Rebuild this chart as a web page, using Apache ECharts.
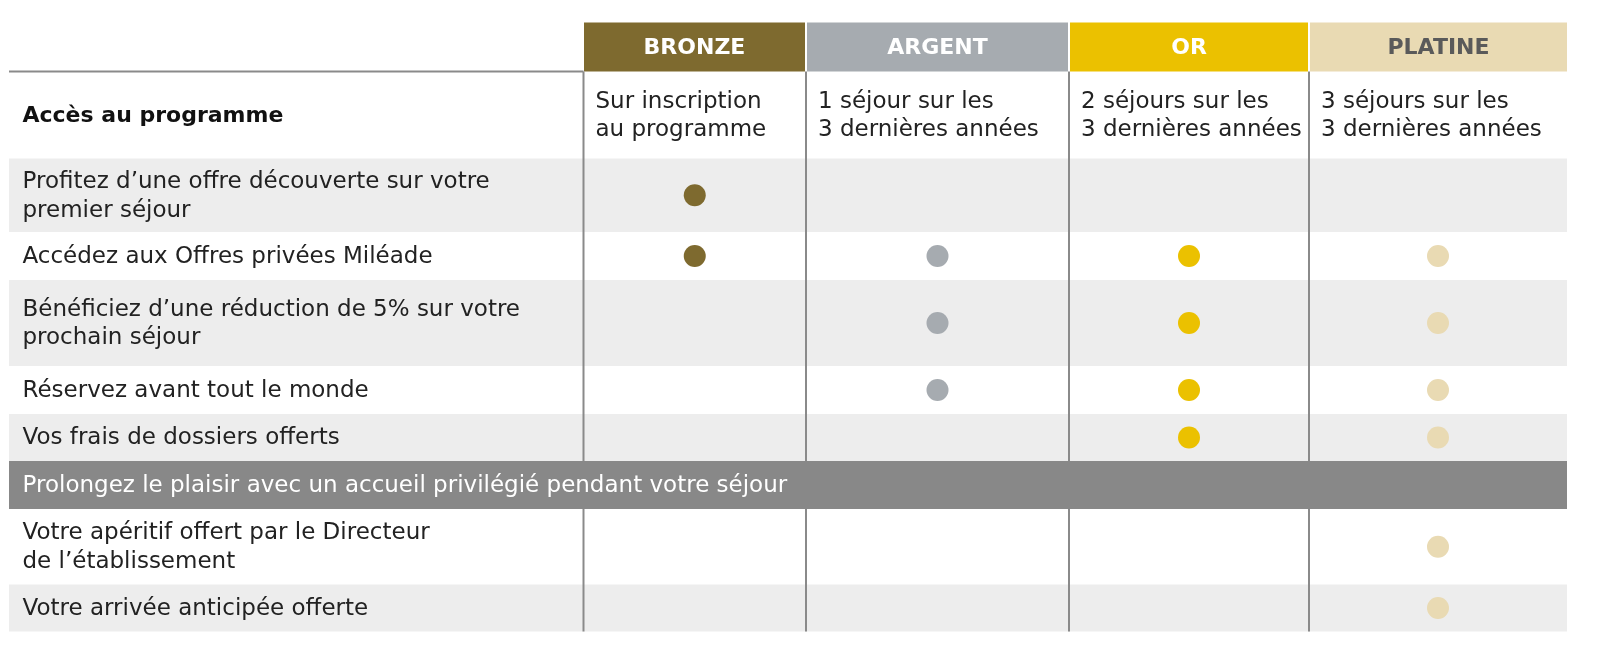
<!DOCTYPE html>
<html><head><meta charset="utf-8">
<script src="https://cdn.jsdelivr.net/npm/echarts@6/dist/echarts.min.js"></script>
<style>html,body{margin:0;padding:0;background:#fff;}#c{width:1602px;height:665px;}</style>
</head><body><div id="c"></div>
<script>
// ---- data ----
const tiers = ['BRONZE', 'ARGENT', 'OR', 'PLATINE'];
const requirements = [
  'Sur inscription\nau programme',
  '1 séjour sur les\n3 dernières années',
  '2 séjours sur les\n3 dernières années',
  '3 séjours sur les\n3 dernières années'
];
const accessLabel = 'Accès au programme';
const sectionLabel = 'Prolongez le plaisir avec un accueil privilégié pendant votre séjour';
const features = [
  'Profitez d’une offre découverte sur votre\npremier séjour',
  'Accédez aux Offres privées Miléade',
  'Bénéficiez d’une réduction de 5% sur votre\nprochain séjour',
  'Réservez avant tout le monde',
  'Vos frais de dossiers offerts',
  'Votre apéritif offert par le Directeur\nde l’établissement',
  'Votre arrivée anticipée offerte'
];
const bronze  = [1, 1, 0, 0, 0, 0, 0];
const argent  = [0, 1, 1, 1, 0, 0, 0];
const or      = [0, 1, 1, 1, 1, 0, 0];
const platine = [0, 1, 1, 1, 1, 1, 1];

// ---- layout / style ----
const colEdges = [9, 583.5, 806, 1069, 1309, 1567];
const headerTop = 22.5, headerBottom = 71.5;
const rowEdges = [71.5, 158.5, 232, 280, 366, 414, 461, 509, 584.5, 631.5];
const rowKinds = ['access', 'f', 'f', 'f', 'f', 'f', 'section', 'f', 'f'];
const rowFills = ['#ffffff', '#ededed', '#ffffff', '#ededed', '#ffffff', '#ededed', '#888888', '#ffffff', '#ededed'];
const featureRow = [1, 2, 3, 4, 5, 7, 8];
const tierColors = ['#7e6a2f', '#a6abb0', '#ebc100', '#e9dab3'];
const tierText = ['#ffffff', '#ffffff', '#ffffff', '#5a5a5a'];
const dotColors = ['#7e6a2f', '#a6abb0', '#ebc100', '#e9dab3'];
const FONT = '"DejaVu Sans", sans-serif';
const FS = 23;
const FS_BOLD = 22;

const avail = [bronze, argent, or, platine];

const chart = echarts.init(document.getElementById('c'), null, {renderer: 'canvas'});

const rowData = rowKinds.map((k, i) => [i]);
let fi = 0;
const rowLabels = rowKinds.map(k => {
  if (k === 'access') return accessLabel;
  if (k === 'section') return sectionLabel;
  return features[fi++];
});

function rowsRender(params, api) {
  const i = api.value(0);
  const kind = rowKinds[i];
  const p0 = api.coord([colEdges[0], rowEdges[i]]);
  const p1 = api.coord([colEdges[colEdges.length - 1], rowEdges[i + 1]]);
  const cy = (p0[1] + p1[1]) / 2;
  const children = [{
    type: 'rect',
    shape: {x: p0[0], y: p0[1], width: p1[0] - p0[0], height: p1[1] - p0[1]},
    style: {fill: rowFills[i]}
  }];
  const lx = api.coord([22.5, 0])[0];
  children.push({
    type: 'text',
    style: {
      x: lx, y: cy + 1, text: rowLabels[i],
      fill: kind === 'section' ? '#ffffff' : (kind === 'access' ? '#111111' : '#222222'),
      fontSize: kind === 'access' ? FS_BOLD : FS, fontFamily: FONT, fontWeight: kind === 'access' ? 'bold' : 'normal',
      lineHeight: 28.6, verticalAlign: 'middle', align: 'left'
    }
  });
  if (kind === 'access') {
    for (let t = 0; t < tiers.length; t++) {
      const tx = api.coord([colEdges[t + 1] + 12, 0])[0];
      children.push({
        type: 'text',
        style: {
          x: tx, y: cy + 1, text: requirements[t], fill: '#222222',
          fontSize: FS, fontFamily: FONT, fontWeight: 'normal', lineHeight: 28.6,
          verticalAlign: 'middle', align: 'left'
        }
      });
    }
  }
  return {type: 'group', children: children};
}

function headerRender(params, api) {
  const t = api.value(0);
  const x0 = colEdges[t + 1] + (t === 0 ? 0.5 : 1);
  const x1 = colEdges[t + 2] - (t === tiers.length - 1 ? 0 : 1);
  const p0 = api.coord([x0, headerTop]);
  const p1 = api.coord([x1, headerBottom]);
  return {
    type: 'group', children: [
      {type: 'rect', shape: {x: p0[0], y: p0[1], width: p1[0] - p0[0], height: p1[1] - p0[1]}, style: {fill: tierColors[t]}},
      {type: 'text', style: {x: (p0[0] + p1[0]) / 2, y: (p0[1] + p1[1]) / 2 + 1, text: tiers[t], fill: tierText[t],
        fontSize: 22, fontFamily: FONT, fontWeight: 'bold', align: 'center', verticalAlign: 'middle'}}
    ]
  };
}

function linesRender(params, api) {
  const children = [];
  const a = api.coord([colEdges[0], headerBottom]);
  const b = api.coord([colEdges[1], headerBottom]);
  children.push({type: 'line', shape: {x1: a[0], y1: a[1], x2: b[0], y2: b[1]}, style: {stroke: '#8a8a8a', lineWidth: 2}});
  const secIdx = rowKinds.indexOf('section');
  for (let c = 1; c < colEdges.length - 1; c++) {
    const segs = [[rowEdges[0], rowEdges[secIdx]], [rowEdges[secIdx + 1], rowEdges[rowEdges.length - 1]]];
    segs.forEach(s => {
      const q0 = api.coord([colEdges[c], s[0]]);
      const q1 = api.coord([colEdges[c], s[1]]);
      children.push({type: 'line', shape: {x1: q0[0], y1: q0[1], x2: q1[0], y2: q1[1]}, style: {stroke: '#8a8a8a', lineWidth: 2}});
    });
  }
  return {type: 'group', children: children};
}

const dotSeries = tiers.map((name, t) => {
  const cx = (colEdges[t + 1] + colEdges[t + 2]) / 2;
  const pts = [];
  avail[t].forEach((v, f) => {
    if (v) {
      const r = featureRow[f];
      pts.push([cx, (rowEdges[r] + rowEdges[r + 1]) / 2]);
    }
  });
  return {
    type: 'scatter', name: name, data: pts, symbol: 'circle', symbolSize: 22,
    itemStyle: {color: dotColors[t], opacity: 1}, z: 5, silent: true, animation: false
  };
});

chart.setOption({
  animation: false,
  grid: {left: 0, right: 0, top: 0, bottom: 0},
  xAxis: {type: 'value', min: 0, max: 1602, show: false},
  yAxis: {type: 'value', min: 0, max: 665, inverse: true, show: false},
  series: [
    {type: 'custom', renderItem: rowsRender, data: rowData, z: 1, silent: true},
    {type: 'custom', renderItem: headerRender, data: tiers.map((n, i) => [i]), z: 2, silent: true},
    {type: 'custom', renderItem: linesRender, data: [[0]], z: 3, silent: true}
  ].concat(dotSeries)
});
</script>
</body></html>
